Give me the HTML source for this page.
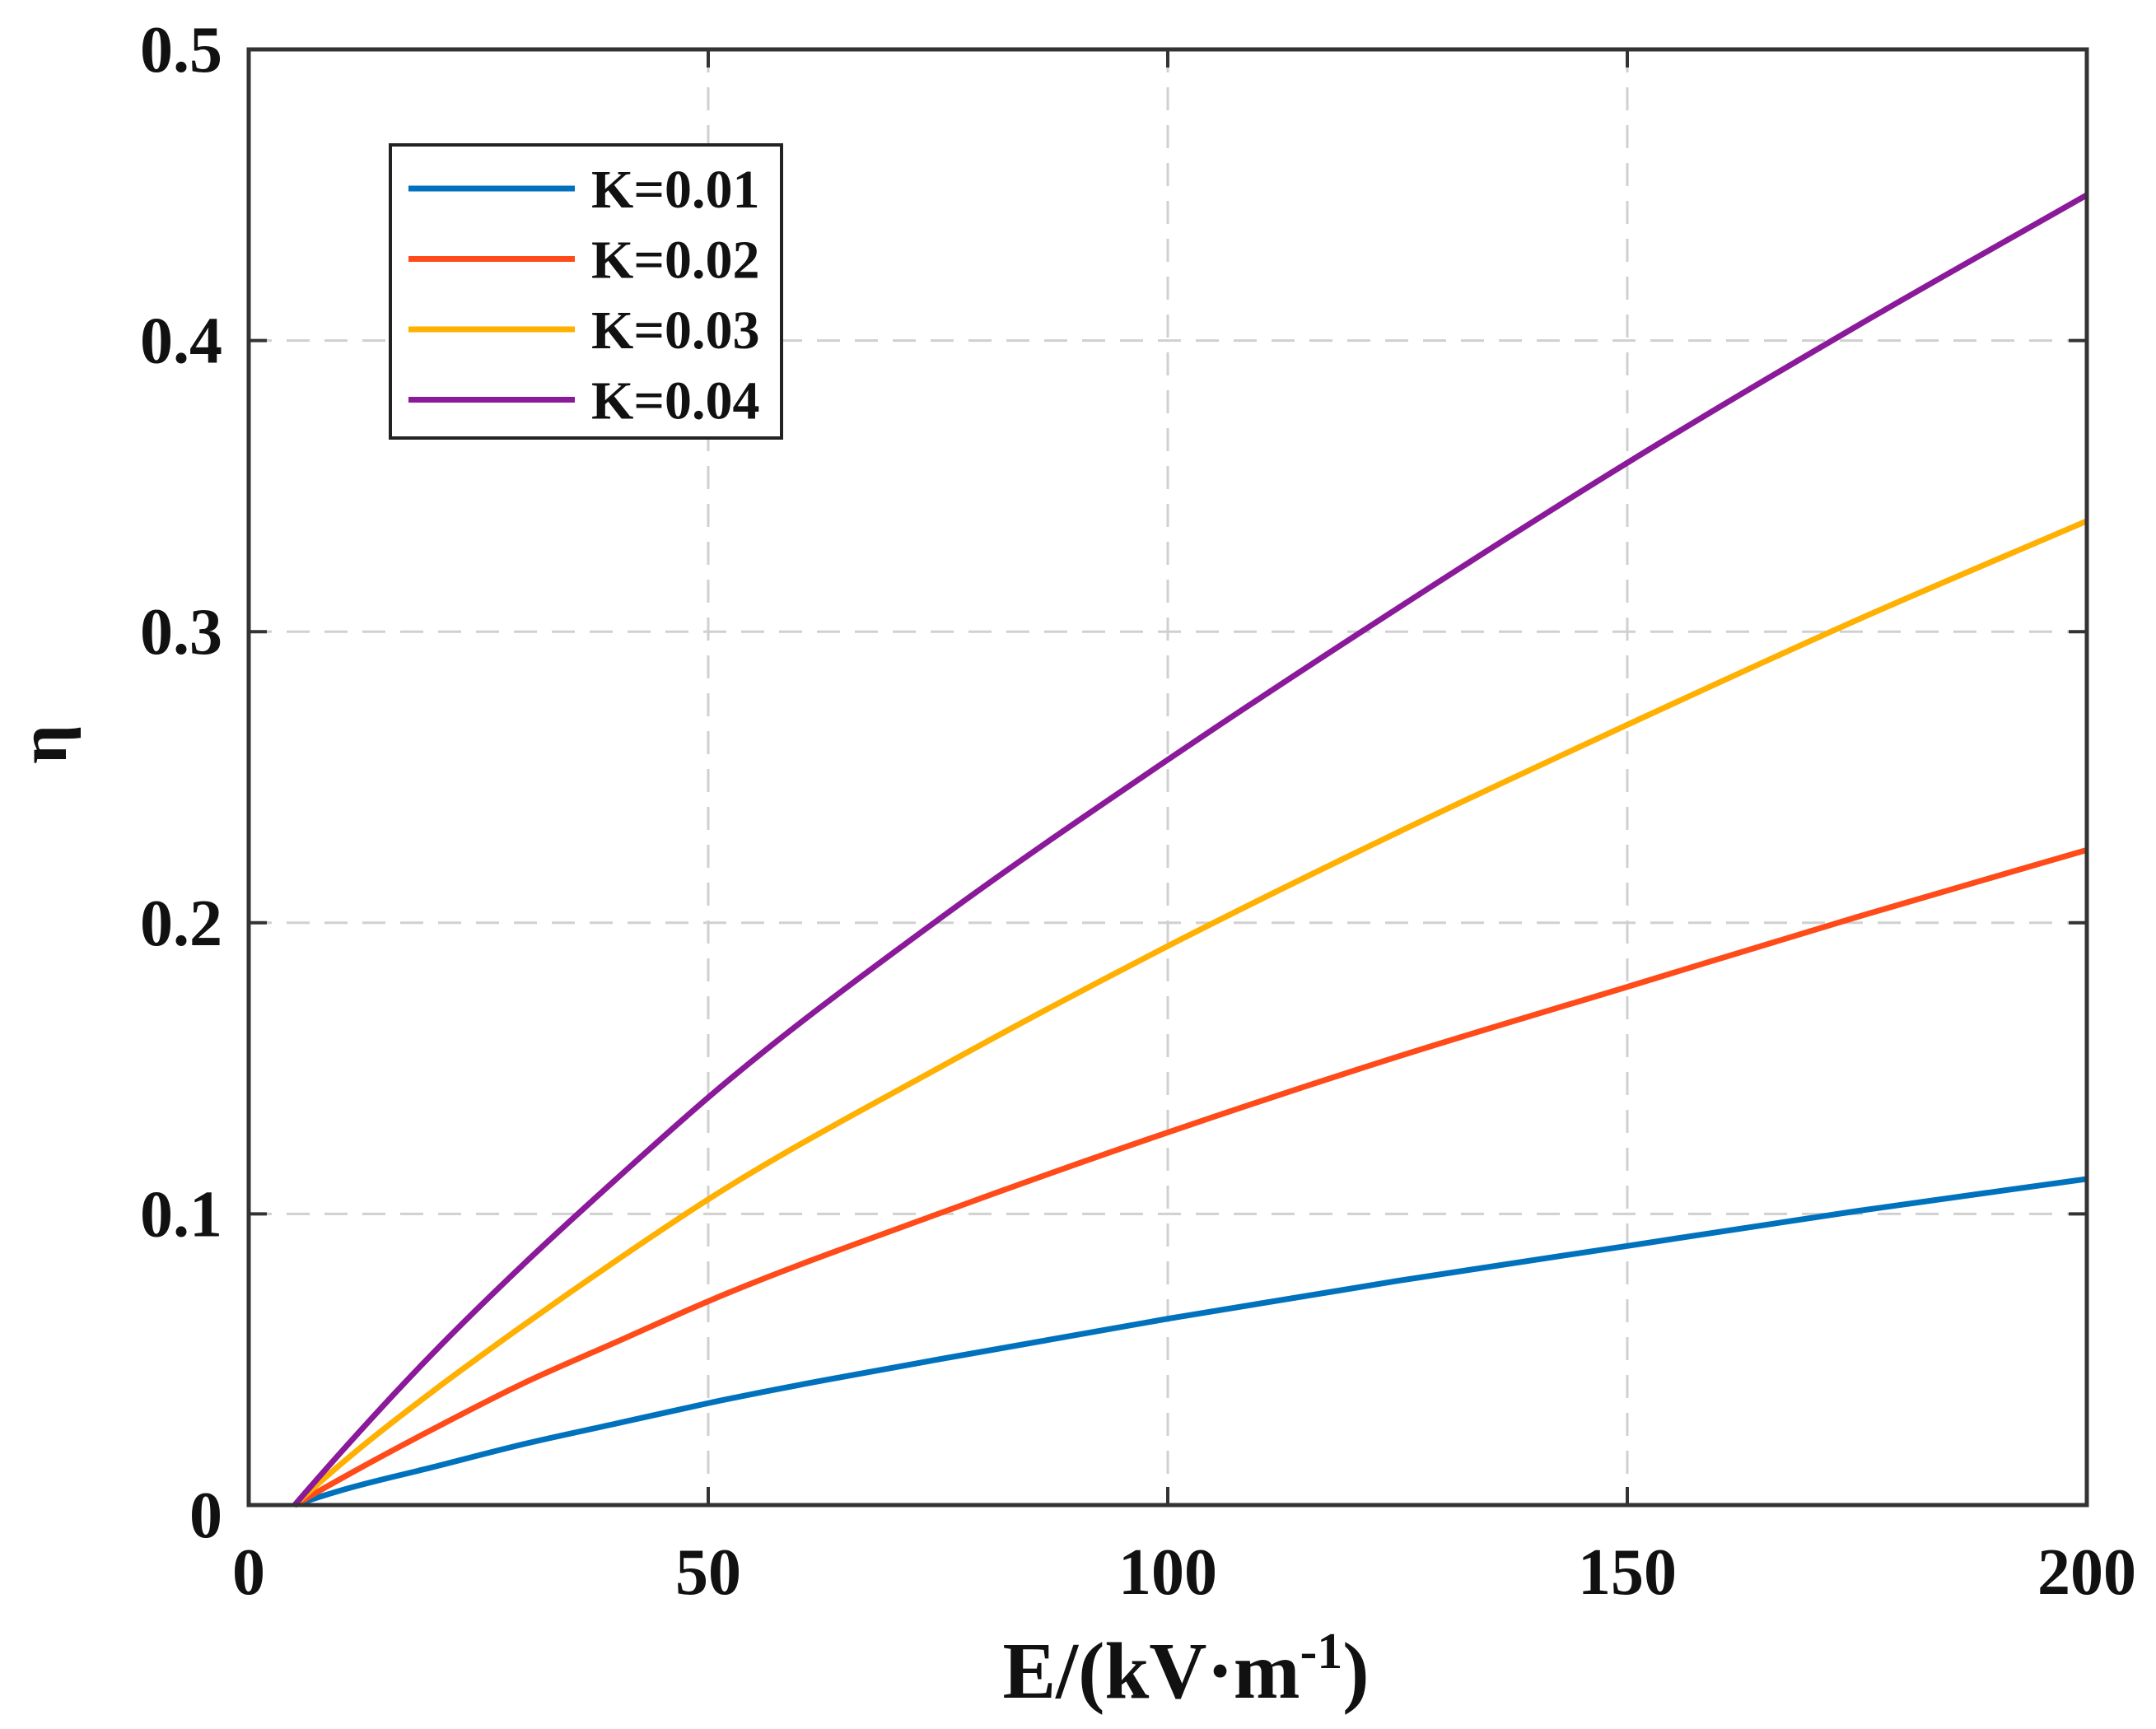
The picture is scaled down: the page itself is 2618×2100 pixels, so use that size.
<!DOCTYPE html>
<html><head><meta charset="utf-8"><style>
html,body{margin:0;padding:0;background:#fff;}
svg text{font-family:"Liberation Serif",serif;font-weight:bold;fill:#111;}
</style></head><body>
<svg id="chart" width="2618" height="2095" xmlns="http://www.w3.org/2000/svg">
<g id="grid"></g>
<g id="series"></g>
<rect x="302" y="60" width="2232" height="1768" fill="none" stroke="#333" stroke-width="5"/>
<g id="ticks"></g>
<text x="1440" y="2062" font-size="97" text-anchor="middle">E/(kV·m<tspan dy="-36" font-size="62">-1</tspan><tspan dy="36">)</tspan></text>
<text x="0" y="0" font-size="84" text-anchor="middle" transform="translate(80,904) rotate(-90)">η</text>
<g>
<rect x="474" y="176" width="475" height="356" fill="#fff" stroke="#222" stroke-width="4"/>
<g id="legend-entries"></g>
</g>
</svg>
<script>
const xTicks=[0,50,100,150,200];
const yTicks=[0,0.1,0.2,0.3,0.4,0.5];
const yTickLabels=["0","0.1","0.2","0.3","0.4","0.5"];
const E=[5,10,20,30,40,50,75,100,125,150,175,200];
const k001=[0,0.005,0.013,0.021,0.028,0.035,0.050,0.064,0.077,0.089,0.101,0.112];
const k002=[0,0.009,0.026,0.042,0.056,0.070,0.100,0.128,0.154,0.178,0.202,0.225];
const k003=[0,0.014,0.039,0.062,0.084,0.105,0.150,0.192,0.231,0.268,0.304,0.338];
const k004=[0,0.018,0.052,0.083,0.112,0.140,0.201,0.256,0.308,0.358,0.405,0.450];
const seriesNames=["K=0.01","K=0.02","K=0.03","K=0.04"];
const seriesData=[k001,k002,k003,k004];
const colors=["#0072BD","#FF4B1A","#FFB000","#8B1A9A"];
const L=302,R=2534,T=60,B=1828;
const xs=v=>L+(v-0)/200*(R-L);
const ys=v=>B-(v-0)/0.5*(B-T);
const NS="http://www.w3.org/2000/svg";
const grid=document.getElementById('grid'),ticks=document.getElementById('ticks'),ser=document.getElementById('series'),leg=document.getElementById('legend-entries');
function mk(tag,attrs,parent){const e=document.createElementNS(NS,tag);for(const k in attrs)e.setAttribute(k,attrs[k]);parent.appendChild(e);return e;}
xTicks.forEach((t,i)=>{
  const x=xs(t);
  if(i>0&&i<xTicks.length-1){const g=mk('line',{x1:x,x2:x,y1:T,y2:B,stroke:'#d0d0d0','stroke-width':3,'stroke-dasharray':'28 18'},grid);
  
  }
  const tk=mk('line',{x1:x,x2:x,y1:B,y2:B-22,stroke:'#333','stroke-width':4},ticks);
  
  
  const tk2=mk('line',{x1:x,x2:x,y1:T,y2:T+22,stroke:'#333','stroke-width':4},ticks);
  
  
  const tx=mk('text',{x:x,y:B+108,'font-size':80,'text-anchor':'middle'},ticks);tx.textContent=t;
  
  
});
yTicks.forEach((t,i)=>{
  const y=ys(t);
  if(i>0&&i<yTicks.length-1){const g=mk('line',{x1:L,x2:R,y1:y,y2:y,stroke:'#d0d0d0','stroke-width':3,'stroke-dasharray':'28 18'},grid);
  
  }
  const tk=mk('line',{x1:L,x2:L+22,y1:y,y2:y,stroke:'#333','stroke-width':4},ticks);
  
  
  const tk2=mk('line',{x1:R,x2:R-22,y1:y,y2:y,stroke:'#333','stroke-width':4},ticks);
  
  
  const tx=mk('text',{x:L-32,y:y+27+(i===0?12:0),'font-size':80,'text-anchor':'end'},ticks);tx.textContent=yTickLabels[i];
  
  
});
seriesData.forEach((d,si)=>{
  const n=E.length;
  const sl=[];for(let i=0;i<n-1;i++)sl.push((d[i+1]-d[i])/(E[i+1]-E[i]));
  const m=[];
  for(let i=0;i<n;i++){
    if(i===0)m.push(sl[0]+(sl[0]-sl[1])*0.5);
    else if(i===n-1)m.push(sl[n-2]);
    else{const h0=E[i]-E[i-1],h1=E[i+1]-E[i];m.push((sl[i-1]*h1+sl[i]*h0)/(h0+h1));}
  }
  let p='M'+xs(E[0])+','+ys(d[0]);
  for(let i=0;i<n-1;i++){
    const h=E[i+1]-E[i];
    const c1x=E[i]+h/3,c1y=d[i]+m[i]*h/3,c2x=E[i+1]-h/3,c2y=d[i+1]-m[i+1]*h/3;
    p+=` C${xs(c1x)},${ys(c1y)} ${xs(c2x)},${ys(c2y)} ${xs(E[i+1])},${ys(d[i+1])}`;
  }
  const path=mk('path',{d:p,fill:'none',stroke:colors[si],'stroke-width':7},ser);
  
  
  const ly=229+si*85.5;
  const ll=mk('line',{x1:496,x2:698,y1:ly,y2:ly,stroke:colors[si],'stroke-width':7},leg);
  
  
  const lt=mk('text',{x:718,y:ly+23,'font-size':66},leg);lt.textContent=seriesNames[si];
  
  
});
</script>
</body></html>
